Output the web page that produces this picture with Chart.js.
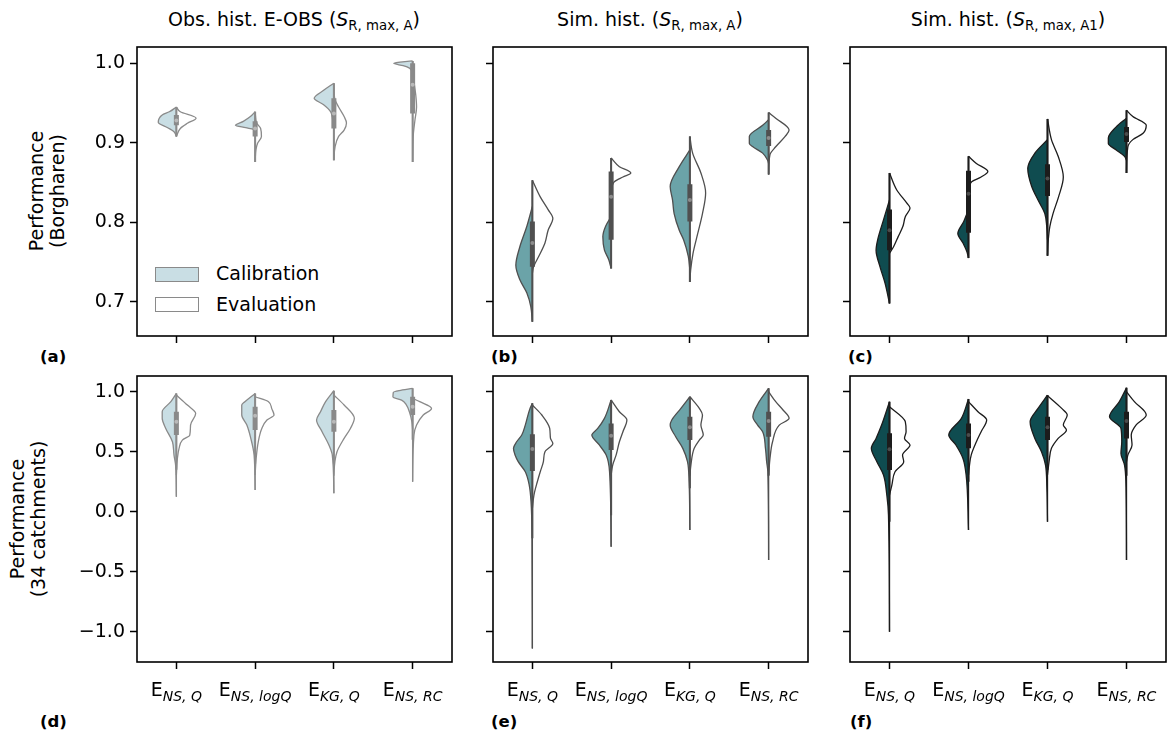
<!DOCTYPE html>
<html>
<head>
<meta charset="utf-8">
<script src="https://cdn.jsdelivr.net/npm/chart.js@4.4.1/dist/chart.umd.min.js"></script>
<style>
  body { margin: 0; background: #fff; width: 1169px; height: 736px; position: relative; overflow: hidden; font-family: 'DejaVu Sans', sans-serif; }
  canvas { position: absolute; }
  .txt { position: absolute; font-size: 19px; white-space: nowrap; color: #000; }
  .title { transform: translate(-50%, -50%); }
  .title sub { font-size: 13.3px; vertical-align: -4px; }
  .ylab { transform: translate(-50%, -50%) rotate(-90deg); text-align: center; line-height: 21px; }
  .letter { font-weight: bold; font-size: 16.5px; transform: translateY(-50%); }
  .patch { position: absolute; width: 42px; height: 13px; border: 1px solid #8a8a8a; }
</style>
</head>
<body>

<div class="txt title" style="left:294px; top:20px;">Obs. hist. E-OBS (<i>S</i><sub>R, max, A</sub>)</div>
<div class="txt title" style="left:650px; top:20px;">Sim. hist. (<i>S</i><sub>R, max, A</sub>)</div>
<div class="txt title" style="left:1008px; top:20px;">Sim. hist. (<i>S</i><sub>R, max, A1</sub>)</div>

<div class="txt ylab" style="left:47px; top:191px;">Performance<br>(Borgharen)</div>
<div class="txt ylab" style="left:28px; top:519px;">Performance<br>(34 catchments)</div>

<div class="txt letter" style="left:40px; top:356px;">(a)</div>
<div class="txt letter" style="left:491px; top:356px;">(b)</div>
<div class="txt letter" style="left:848px; top:356px;">(c)</div>
<div class="txt letter" style="left:40px; top:721px;">(d)</div>
<div class="txt letter" style="left:491px; top:721px;">(e)</div>
<div class="txt letter" style="left:850px; top:721px;">(f)</div>

<div class="patch" style="left:155px; top:267px; background:#c9dee4;"></div>
<div class="patch" style="left:155px; top:297px; background:#fff;"></div>
<div class="txt" style="left:216px; top:273px; transform:translateY(-50%);">Calibration</div>
<div class="txt" style="left:216px; top:304px; transform:translateY(-50%);">Evaluation</div>

<script>
// subscripts of the metric names E_xx
const metrics = ['NS, Q', 'NS, logQ', 'KG, Q', 'NS, RC'];
const topTicks = [0.7, 0.8, 0.9, 1.0];
const bottomTicks = [-1.0, -0.5, 0.0, 0.5, 1.0];

// violin halves: [performance, half width in category units], top to bottom
const calA = [
  [[0.945,0],[0.939,0.09],[0.935,0.18],[0.926,0.23],[0.919,0.11],[0.914,0.03],[0.908,0]],
  [[0.939,0],[0.933,0.06],[0.927,0.15],[0.922,0.25],[0.919,0.12],[0.917,0.02],[0.915,0]],
  [[0.975,0],[0.966,0.13],[0.956,0.25],[0.948,0.13],[0.939,0.04],[0.929,0.015],[0.92,0]],
  [[1.003,0],[1.0,0.24],[0.997,0.12],[0.994,0.04],[0.99,0.01],[0.985,0]]
];
const evalA = [
  [[0.945,0],[0.939,0.05],[0.931,0.25],[0.9245,0.14],[0.918,0.05],[0.908,0]],
  [[0.939,0],[0.925,0.02],[0.918,0.07],[0.908,0.08],[0.899,0.03],[0.891,0.01],[0.876,0]],
  [[0.975,0],[0.956,0.01],[0.945,0.06],[0.933,0.13],[0.925,0.16],[0.916,0.13],[0.908,0.06],[0.895,0.015],[0.878,0]],
  [[1.003,0],[0.99,0.005],[0.975,0.02],[0.96,0.04],[0.945,0.05],[0.929,0.03],[0.912,0.01],[0.876,0]]
];
const calB = [
  [[0.82,0],[0.795,0.07],[0.769,0.16],[0.746,0.21],[0.728,0.16],[0.711,0.07],[0.694,0.02],[0.675,0]],
  [[0.807,0],[0.795,0.07],[0.782,0.105],[0.765,0.085],[0.753,0.03],[0.742,0]],
  [[0.891,0],[0.87,0.135],[0.845,0.25],[0.828,0.22],[0.811,0.2],[0.79,0.135],[0.778,0.08],[0.757,0.02],[0.74,0]],
  [[0.929,0],[0.922,0.076],[0.908,0.245],[0.899,0.245],[0.895,0.2],[0.887,0.076],[0.878,0.013],[0.874,0]]
];
const evalB = [
  [[0.853,0],[0.832,0.10],[0.816,0.20],[0.805,0.26],[0.79,0.2],[0.774,0.16],[0.757,0.08],[0.744,0.015],[0.736,0]],
  [[0.881,0],[0.87,0.105],[0.862,0.25],[0.857,0.15],[0.851,0.04],[0.845,0.013],[0.832,0]],
  [[0.908,0],[0.887,0.035],[0.862,0.14],[0.837,0.2],[0.811,0.16],[0.786,0.1],[0.761,0.04],[0.74,0.01],[0.725,0]],
  [[0.938,0],[0.931,0.09],[0.916,0.26],[0.908,0.21],[0.895,0.09],[0.885,0.017],[0.86,0]]
];
const calC = [
  [[0.828,0],[0.803,0.076],[0.778,0.15],[0.765,0.17],[0.744,0.12],[0.723,0.055],[0.698,0]],
  [[0.816,0],[0.801,0.06],[0.786,0.135],[0.774,0.07],[0.763,0.02],[0.755,0]],
  [[0.904,0],[0.887,0.16],[0.868,0.25],[0.845,0.2],[0.828,0.12],[0.811,0.034],[0.795,0.01],[0.778,0]],
  [[0.931,0],[0.92,0.13],[0.906,0.23],[0.899,0.23],[0.891,0.13],[0.883,0.025],[0.878,0]]
];
const evalC = [
  [[0.862,0],[0.841,0.09],[0.824,0.22],[0.818,0.26],[0.807,0.2],[0.795,0.17],[0.782,0.11],[0.769,0.05],[0.761,0]],
  [[0.883,0],[0.874,0.1],[0.864,0.245],[0.857,0.16],[0.851,0.04],[0.841,0]],
  [[0.93,0],[0.904,0.05],[0.883,0.135],[0.857,0.2],[0.832,0.14],[0.811,0.07],[0.795,0.03],[0.778,0.01],[0.758,0]],
  [[0.941,0],[0.933,0.08],[0.922,0.25],[0.912,0.21],[0.904,0.08],[0.895,0.017],[0.862,0]]
];
const calD = [
  [[0.986,0],[0.917,0.07],[0.833,0.18],[0.778,0.18],[0.694,0.135],[0.583,0.05],[0.472,0.03],[0.389,0.01],[0.125,0]],
  [[0.986,0],[0.917,0.13],[0.889,0.17],[0.806,0.17],[0.722,0.105],[0.611,0.055],[0.472,0.013],[0.181,0]],
  [[1.008,0],[0.917,0.105],[0.833,0.17],[0.764,0.22],[0.667,0.15],[0.556,0.063],[0.472,0.02],[0.153,0]],
  [[1.028,0],[1.01,0.17],[0.995,0.245],[0.955,0.25],[0.93,0.14],[0.89,0.08],[0.83,0.04],[0.75,0.01],[0.69,0]]
];
const evalD = [
  [[0.972,0],[0.889,0.14],[0.819,0.245],[0.722,0.18],[0.639,0.17],[0.597,0.076],[0.528,0.034],[0.444,0.013],[0.306,0]],
  [[0.958,0],[0.917,0.17],[0.861,0.21],[0.806,0.24],[0.764,0.15],[0.694,0.085],[0.583,0.04],[0.444,0.013],[0.306,0]],
  [[0.972,0],[0.889,0.13],[0.778,0.26],[0.694,0.21],[0.611,0.13],[0.5,0.04],[0.417,0.013],[0.3,0]],
  [[0.944,0],[0.917,0.09],[0.861,0.24],[0.806,0.135],[0.722,0.05],[0.639,0.017],[0.25,0]]
];
const calE = [
  [[0.903,0],[0.861,0.03],[0.722,0.09],[0.639,0.135],[0.583,0.2],[0.528,0.24],[0.472,0.22],[0.417,0.18],[0.333,0.09],[0.222,0.04],[0.083,0.017],[-0.2,0.005],[-1.139,0]],
  [[0.931,0],[0.778,0.085],[0.694,0.17],[0.639,0.245],[0.556,0.15],[0.472,0.063],[0.333,0.02],[-0.292,0]],
  [[0.958,0],[0.861,0.114],[0.764,0.23],[0.722,0.25],[0.625,0.18],[0.528,0.09],[0.417,0.03],[0.25,0.01],[-0.153,0]],
  [[1.028,0],[0.917,0.12],[0.792,0.2],[0.722,0.14],[0.667,0.076],[0.528,0.04],[0.417,0.025],[0.333,0.01],[-0.403,0]]
];
const evalE = [
  [[0.889,0],[0.806,0.12],[0.694,0.22],[0.611,0.23],[0.569,0.26],[0.5,0.16],[0.417,0.14],[0.333,0.1],[0.25,0.063],[0.139,0.02],[0.028,0]],
  [[0.931,0],[0.833,0.105],[0.764,0.2],[0.667,0.15],[0.583,0.105],[0.472,0.063],[0.389,0.02],[0.306,0]],
  [[0.958,0],[0.861,0.12],[0.806,0.16],[0.722,0.14],[0.639,0.17],[0.597,0.12],[0.528,0.055],[0.389,0.013],[0.3,0]],
  [[1.0,0],[0.917,0.09],[0.85,0.18],[0.778,0.26],[0.722,0.135],[0.583,0.05],[0.444,0.017],[0.306,0]]
];
const calF = [
  [[0.917,0],[0.722,0.1],[0.611,0.17],[0.528,0.23],[0.417,0.16],[0.306,0.076],[0.139,0.034],[-0.028,0.013],[-1.0,0]],
  [[0.94,0],[0.778,0.09],[0.639,0.25],[0.556,0.16],[0.444,0.07],[0.306,0.03],[-0.153,0]],
  [[0.972,0],[0.861,0.12],[0.75,0.22],[0.611,0.16],[0.5,0.076],[0.389,0.025],[0.2,0.008],[-0.083,0]],
  [[1.033,0],[0.917,0.09],[0.792,0.215],[0.694,0.07],[0.583,0.06],[0.486,0.07],[0.389,0.025],[0.25,0.008],[-0.403,0]]
];
const evalF = [
  [[0.875,0],[0.75,0.2],[0.667,0.21],[0.611,0.19],[0.556,0.26],[0.472,0.165],[0.417,0.18],[0.333,0.07],[0.222,0.03],[0.139,0]],
  [[0.917,0],[0.833,0.12],[0.764,0.23],[0.667,0.16],[0.583,0.1],[0.472,0.034],[0.389,0.013],[0.306,0]],
  [[0.967,0],[0.861,0.18],[0.806,0.25],[0.722,0.2],[0.681,0.24],[0.611,0.135],[0.528,0.05],[0.417,0.02],[0.306,0]],
  [[1.0,0],[0.917,0.1],[0.806,0.25],[0.722,0.12],[0.639,0.06],[0.556,0.07],[0.472,0.017],[0.417,0]]
];

// inner boxes: [whisker low, q1, median, q3, whisker high]
const boxA = [[0.908,0.922,0.928,0.935,0.945],[0.876,0.908,0.918,0.927,0.939],[0.878,0.918,0.937,0.956,0.975],[0.876,0.937,0.973,1.0,1.003]];
const boxB = [[0.675,0.744,0.774,0.801,0.853],[0.742,0.778,0.832,0.864,0.881],[0.725,0.801,0.828,0.848,0.908],[0.86,0.896,0.906,0.916,0.938]];
const boxC = [[0.698,0.765,0.79,0.816,0.862],[0.755,0.787,0.836,0.865,0.883],[0.758,0.833,0.855,0.873,0.93],[0.862,0.901,0.911,0.92,0.941]];
const boxD = [[0.35,0.639,0.75,0.833,0.986],[0.4,0.68,0.8,0.875,0.986],[0.4,0.667,0.75,0.847,1.008],[0.6,0.806,0.875,0.958,1.028]];
const boxE = [[-0.222,0.339,0.522,0.645,0.903],[-0.03,0.514,0.633,0.736,0.931],[0.195,0.597,0.703,0.792,0.958],[0.3,0.625,0.756,0.833,1.028]];
const boxF = [[-0.083,0.347,0.52,0.653,0.917],[0.25,0.528,0.639,0.736,0.94],[0.35,0.597,0.703,0.792,0.972],[0.3,0.611,0.756,0.833,1.033]];

const light = {fill: '#c9dee4', edge: '#8a8a8a', box: '#8a8a8a', med: '#b9b9b9'};
const mid = {fill: '#6ba3a8', edge: '#4f4f4f', box: '#505050', med: '#8c8c8c'};
const dark = {fill: '#0f4c50', edge: '#1c1c1c', box: '#1c1c1c', med: '#4c4c4c'};

const panels = [
  {L: 137, R: 452, T: 47, B: 336, cal: calA, ev: evalA, box: boxA, ticks: topTicks, min: 0.657, max: 1.0205, st: light, yLab: true, xLab: false},
  {L: 493, R: 808, T: 47, B: 336, cal: calB, ev: evalB, box: boxB, ticks: topTicks, min: 0.657, max: 1.0205, st: mid, yLab: false, xLab: false},
  {L: 850, R: 1166, T: 47, B: 336, cal: calC, ev: evalC, box: boxC, ticks: topTicks, min: 0.657, max: 1.0205, st: dark, yLab: false, xLab: false},
  {L: 137, R: 452, T: 376, B: 662, cal: calD, ev: evalD, box: boxD, ticks: bottomTicks, min: -1.2525, max: 1.131, st: light, yLab: true, xLab: true},
  {L: 493, R: 808, T: 376, B: 662, cal: calE, ev: evalE, box: boxE, ticks: bottomTicks, min: -1.2525, max: 1.131, st: mid, yLab: false, xLab: true},
  {L: 850, R: 1166, T: 376, B: 662, cal: calF, ev: evalF, box: boxF, ticks: bottomTicks, min: -1.2525, max: 1.131, st: dark, yLab: false, xLab: true}
];

const frame = {
  id: 'frame',
  afterDatasetsDraw(chart) {
    const a = chart.chartArea, ctx = chart.ctx;
    ctx.save();
    ctx.strokeStyle = '#000';
    ctx.lineWidth = 1.6;
    ctx.strokeRect(a.left, a.top, a.right - a.left, a.bottom - a.top);
    ctx.restore();
  }
};

// E with italic subscript under every x tick
const metricLabels = {
  id: 'metricLabels',
  afterDraw(chart, args, opts) {
    if (!opts.show) return;
    const ctx = chart.ctx, xs = chart.scales.x;
    const base = chart.chartArea.bottom + 34;
    ctx.save();
    ctx.fillStyle = '#000';
    ctx.textAlign = 'left';
    ctx.textBaseline = 'alphabetic';
    metrics.forEach((m, i) => {
      ctx.font = '19px "DejaVu Sans"';
      const w1 = ctx.measureText('E').width;
      ctx.font = 'italic 14px "DejaVu Sans"';
      const w2 = ctx.measureText(m).width;
      const left = xs.getPixelForValue(i) - (w1 + w2) / 2;
      ctx.font = '19px "DejaVu Sans"';
      ctx.fillText('E', left, base);
      ctx.font = 'italic 14px "DejaVu Sans"';
      ctx.fillText(m, left + w1, base + 5);
    });
    ctx.restore();
  }
};

function halfDataset(shape, i, side, st, fillColor) {
  return {
    data: shape.map(p => ({x: i + side * p[1], y: p[0]})),
    fill: {value: i},
    backgroundColor: fillColor,
    borderColor: st.edge,
    borderWidth: 1.3,
    pointRadius: 0,
    cubicInterpolationMode: 'monotone',
    order: 3
  };
}

panels.forEach(p => {
  const padTop = 20, yW = 70, xH = 44, padRight = 4;
  const cv = document.createElement('canvas');
  const w = p.R - p.L + yW + padRight, h = p.B - p.T + padTop + xH;
  cv.width = w; cv.height = h;
  cv.style.left = (p.L - yW) + 'px';
  cv.style.top = (p.T - padTop) + 'px';
  cv.style.width = w + 'px'; cv.style.height = h + 'px';
  document.body.appendChild(cv);

  const datasets = [];
  p.cal.forEach((shape, i) => {
    datasets.push(halfDataset(shape, i, -1, p.st, p.st.fill));
    datasets.push(halfDataset(p.ev[i], i, 1, p.st, '#ffffff'));
    const vals = shape.concat(p.ev[i]).map(q => q[0]);
    datasets.push({data: [{x: i, y: Math.max(...vals)}, {x: i, y: Math.min(...vals)}],
      borderColor: p.st.edge, borderWidth: 1.3, pointRadius: 0, fill: false, order: 2});
    const b = p.box[i];
    datasets.push({data: [{x: i, y: b[4]}, {x: i, y: b[0]}],
      borderColor: p.st.box, borderWidth: 2, pointRadius: 0, fill: false, order: 1});
    datasets.push({data: [{x: i, y: b[3]}, {x: i, y: b[1]}],
      borderColor: p.st.box, borderWidth: 5, borderCapStyle: 'butt', pointRadius: 0, fill: false, order: 1});
    datasets.push({data: [{x: i, y: b[2]}], showLine: false, pointRadius: 2,
      pointBackgroundColor: p.st.med, pointBorderWidth: 0, fill: false, order: 0});
  });

  new Chart(cv, {
    type: 'line',
    data: {datasets},
    plugins: [frame, metricLabels],
    options: {
      indexAxis: 'y',
      responsive: false,
      animation: false,
      layout: {padding: {top: padTop, right: padRight, left: 0, bottom: 0}},
      plugins: {legend: {display: false}, tooltip: {enabled: false}, metricLabels: {show: p.xLab}},
      scales: {
        x: {
          type: 'linear', min: -0.5, max: 3.5,
          afterBuildTicks: s => { s.ticks = metrics.map((m, i) => ({value: i})); },
          afterFit: s => { s.height = xH; },
          ticks: {display: false},
          grid: {drawOnChartArea: false, drawTicks: true, tickLength: 7, tickWidth: 1.5, tickColor: '#000'},
          border: {display: false}
        },
        y: {
          type: 'linear', min: p.min, max: p.max,
          afterBuildTicks: s => { s.ticks = p.ticks.map(v => ({value: v})); },
          afterFit: s => { s.width = yW; },
          ticks: {
            display: p.yLab, padding: 5, color: '#000',
            font: {family: 'DejaVu Sans', size: 19},
            callback: v => v.toFixed(1).replace('-', '\u2212')
          },
          grid: {drawOnChartArea: false, drawTicks: true, tickLength: 7, tickWidth: 1.5, tickColor: '#000'},
          border: {display: false}
        }
      }
    }
  });
});
</script>
</body>
</html>
